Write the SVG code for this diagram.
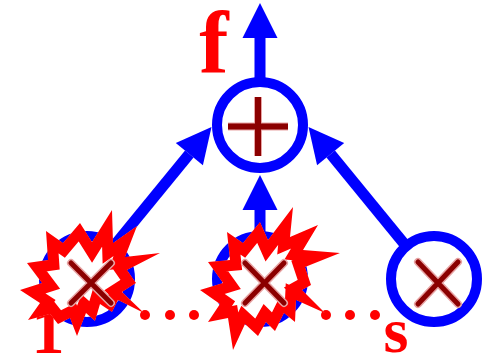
<svg xmlns="http://www.w3.org/2000/svg" width="489" height="358" viewBox="0 0 489 358">
<style>
.ring{fill:#fff;stroke:#00f;stroke-width:10}
.shaft{stroke:#00f;stroke-width:11;fill:none}
.head{fill:#00f}
.dot{fill:#f00}
.halo{stroke:#e8a3a3;stroke-width:8;stroke-linecap:round;fill:none}
.mark{stroke:#8b0000;stroke-width:5;stroke-linecap:round;fill:none}
.plus{stroke:#8b0000;stroke-width:6;fill:none}
.plushalo{stroke:#e8a3a3;stroke-width:8;fill:none}
.lbl{font-family:"Liberation Serif",serif;font-weight:bold;fill:#f00}
.boom{fill:#fff;stroke:#f00;stroke-width:22;stroke-linejoin:miter;stroke-miterlimit:40}
</style>
<defs>
<polygon id="boomL" points="46,231 63,243 80,223 92,242 112,210 113,243 137,226 125,257 160,253 127,270 136,283 122,292 144,313 118,300 112,312 100,304 95,321 86,313 77,336 70,318 58,324 50,314 28,320 40,303 20,290 42,283 27,263 48,260"/>
<polygon id="boomM" points="227,232 243,243 260,222 268,240 293,207 290,237 318,225 303,250 340,253 305,267 311,285 302,290 325,313 296,300 295,322 284,313 275,331 266,322 258,336 245,324 233,350 228,318 208,322 220,304 200,290 223,283 208,262 230,260"/>
<clipPath id="clipL"><use href="#boomL"/></clipPath>
<clipPath id="clipM"><use href="#boomM"/></clipPath>
</defs>
<g id="connectors">
<line class="shaft" x1="87" y1="279" x2="189.3" y2="154.1"/>
<polygon class="head" points="211.5,127 202.9,165.2 175.8,143"/>
<line class="shaft" x1="433" y1="279" x2="330.7" y2="154.1"/>
<polygon class="head" points="308.5,127 317.1,165.2 344.2,143"/>
<line class="shaft" x1="260" y1="279" x2="260" y2="209"/>
<polygon class="head" points="260,175 242.5,210 277.5,210"/>
<line class="shaft" x1="260" y1="125" x2="260" y2="37"/>
<polygon class="head" points="260,3 242.5,38 277.5,38"/>
<circle class="dot" cx="145" cy="315" r="5"/>
<circle class="dot" cx="170" cy="315" r="5"/>
<circle class="dot" cx="194" cy="315" r="5"/>
<circle class="dot" cx="326" cy="315" r="5"/>
<circle class="dot" cx="350" cy="315" r="5"/>
<circle class="dot" cx="375" cy="315" r="5"/>
</g>
<g id="node-top">
<circle class="ring" cx="260" cy="125" r="43"/>
<path class="plushalo" d="M228,126.5H288M258,97V156"/>
<path class="plus" d="M228,126.5H288M258,97V156"/>
<text class="lbl" x="214" y="72" font-size="88" text-anchor="middle">f</text>
</g>
<g id="node-left">
<text class="lbl" x="48" y="353" font-size="66" text-anchor="middle">1</text>
<circle class="ring" cx="87" cy="279" r="43"/>
<use href="#boomL" class="boom" clip-path="url(#clipL)"/>
<path class="halo" d="M71,263L111,303M71,303L111,263"/>
<path class="mark" d="M71,263L111,303M71,303L111,263"/>
</g>
<g id="node-mid">
<circle class="ring" cx="260" cy="279" r="43"/>
<use href="#boomM" class="boom" clip-path="url(#clipM)"/>
<path class="halo" d="M245,263L284,303M245,303L284,263"/>
<path class="mark" d="M245,263L284,303M245,303L284,263"/>
</g>
<g id="node-right">
<circle class="ring" cx="434" cy="279" r="43"/>
<path class="halo" d="M418,262L458,304M418,304L458,262"/>
<path class="mark" d="M418,262L458,304M418,304L458,262"/>
<text class="lbl" x="396" y="352" font-size="64" text-anchor="middle">s</text>
</g>
</svg>
